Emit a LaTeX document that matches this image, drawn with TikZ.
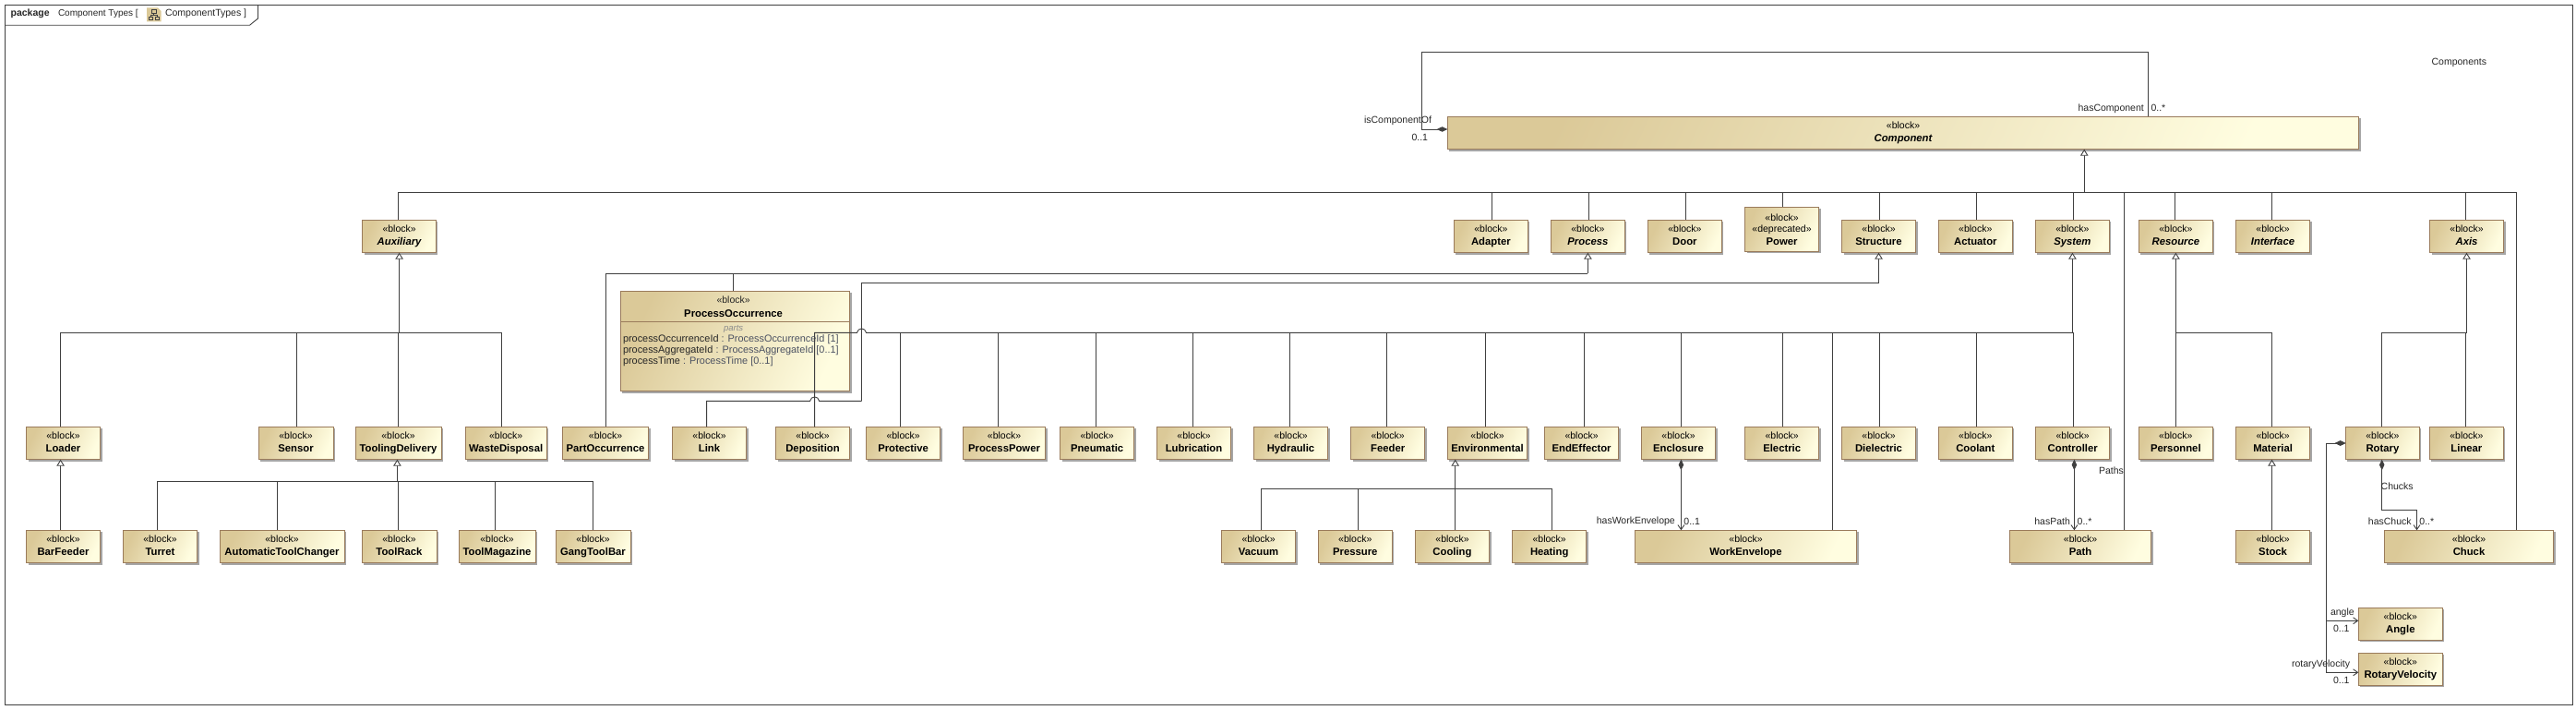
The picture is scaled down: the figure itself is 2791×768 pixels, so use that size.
\documentclass[tikz,border=0pt]{standalone}
\usepackage{fontspec}
\setmainfont{Liberation Sans}
\definecolor{blklo}{HTML}{DBC998}
\definecolor{blkhi}{HTML}{FFFDE0}
\definecolor{blkedge}{HTML}{9A7B5B}
\definecolor{wire}{HTML}{404040}
\definecolor{typegrey}{HTML}{4C5262}
\usetikzlibrary{arrows.meta, shadows}
\newcommand{\blkname}[1]{«block»\\[-0.5pt]{\fontsize{11.3}{14}\selectfont\bfseries\vphantom{Apg}#1}}
\newcommand{\blkital}[1]{«block»\\[-0.5pt]{\fontsize{11.3}{14}\selectfont\bfseries\itshape\vphantom{Apg}#1}}

\begin{document}
\begin{tikzpicture}[x=1pt, y=-1pt,
  blk/.style={rectangle, draw=blkedge, line width=0.9pt, left color=blklo, right color=blkhi,
              shading angle=65, minimum height=35.4pt, inner sep=0pt, outer sep=0pt, align=center,
              text=black, font=\fontsize{10.5}{14}\selectfont,
              drop shadow={shadow xshift=2pt, shadow yshift=-2pt, fill=black!35, opacity=1}},
  lbl/.style={inner sep=0pt, outer sep=0pt, anchor=west, text=black!85, font=\fontsize{10.5}{12}\selectfont},
  part/.style={lbl, font=\fontsize{10.9}{12}\selectfont},
  ln/.style={draw=wire, line width=0.9pt},
  gen/.style={ln, -{Triangle[open, fill=white, length=7pt, width=8.5pt]}},
  cmp/.style={ln, {Diamond[length=11.5pt, width=5.5pt]}-{Straight Barb[length=5pt, width=7pt]}},
  cmpl/.style={ln, {Diamond[length=11.5pt, width=5.5pt]}-},
]
\useasboundingbox (0,0) rectangle (2791,768);

% Frame
\draw[ln] (5.4,5.3) rectangle (2787,763);
\draw[ln] (5.4,27.3) -- (270.5,27.3) -- (279.5,20) -- (279.5,5.3);
\node[lbl] (pkgkind) at (11.6,14.5) {\textbf{package}};
\node[lbl, font=\fontsize{10}{12}\selectfont] (pkgname) at (63,14.5) {Component Types [};
\node[lbl] (pkgdiag) at (179,14.5) {ComponentTypes ]};
\fill[blklo] (159,8.5) -- (171,8.5) -- (174.5,12) -- (174.5,23.5) -- (159,23.5) -- cycle;
\draw[black!75, line width=0.6pt] (164,10.5) rectangle (169.5,14.5) (161.5,18) rectangle (165.5,21.5) (168,18) rectangle (172,21.5)
  (166.7,14.5) -- (166.7,16.3) (163.5,18) -- (163.5,16.3) -- (170,16.3) -- (170,18);

% Top row
\node[blk, minimum width=987.4pt] (component) at (2062,144) {\blkital{Component}};
\node[blk, minimum width=79.4pt] (auxiliary) at (432.6,256) {\blkital{Auxiliary}};
\node[blk, minimum width=80pt] (adapter) at (1615.4,256) {\blkname{Adapter}};
\node[blk, minimum width=80pt] (process) at (1720.4,256) {\blkital{Process}};
\node[blk, minimum width=80pt] (door) at (1825.4,256) {\blkname{Door}};
\node[blk, minimum width=80pt, minimum height=48pt] (power) at (1930.5,248.3) {«block»\\[-1.5pt]«deprecated»\\[-0.5pt]{\fontsize{11.3}{14}\selectfont\bfseries Power}};
\node[blk, minimum width=80pt] (structure) at (2035.5,256) {\blkname{Structure}};
\node[blk, minimum width=80pt] (actuator) at (2140.3,256) {\blkname{Actuator}};
\node[blk, minimum width=80pt] (system) at (2245.4,256) {\blkital{System}};
\node[blk, minimum width=80pt] (resource) at (2357.4,256) {\blkital{Resource}};
\node[blk, minimum width=80pt] (interface) at (2462.5,256) {\blkital{Interface}};
\node[blk, minimum width=80pt] (axis) at (2672.5,256) {\blkital{Axis}};

% ProcessOccurrence
\node[blk, minimum width=248.2pt, minimum height=108.4pt] (occurrence) at (796.4,369.5) {};
\draw[blkedge, line width=0.9pt] (occurrence.west |- 0,348.3) -- (occurrence.east |- 0,348.3);
\node[lbl, anchor=center] (occblock) at (794.6,324.5) {«block»};
\node[lbl, anchor=center, text=black, font=\fontsize{11.3}{14}\selectfont\bfseries] (occname) at (794.6,339.5) {ProcessOccurrence};
\node[lbl, anchor=center, text=black!45, font=\fontsize{9.5}{12}\selectfont\itshape] (occparts) at (794.6,356) {parts};
\node[part] (occid) at (675,367.3) {processOccurrenceId \textcolor{typegrey}{: ProcessOccurrenceId [1]}};
\node[part] (occagg) at (675,379.3) {processAggregateId \textcolor{typegrey}{: ProcessAggregateId [0..1]}};
\node[part] (occtime) at (675,391.3) {processTime \textcolor{typegrey}{: ProcessTime [0..1]}};

% Middle row
\node[blk, minimum width=80pt] (loader) at (68.5,480) {\blkname{Loader}};
\node[blk, minimum width=81pt] (sensor) at (320.5,480) {\blkname{Sensor}};
\node[blk, minimum width=93pt] (tooling) at (431.5,480) {\blkname{ToolingDelivery}};
\node[blk, minimum width=88pt] (waste) at (548.2,480) {\blkname{WasteDisposal}};
\node[blk, minimum width=93.4pt] (partocc) at (656,480) {\blkname{PartOccurrence}};
\node[blk, minimum width=80pt] (link) at (768.5,480) {\blkname{Link}};
\node[blk, minimum width=80pt] (deposition) at (880.5,480) {\blkname{Deposition}};
\node[blk, minimum width=80.4pt] (protective) at (978.6,480) {\blkname{Protective}};
\node[blk, minimum width=89.4pt] (procpower) at (1088,480) {\blkname{ProcessPower}};
\node[blk, minimum width=80pt] (pneumatic) at (1188.6,480) {\blkname{Pneumatic}};
\node[blk, minimum width=80pt] (lubrication) at (1293.5,480) {\blkname{Lubrication}};
\node[blk, minimum width=80pt] (hydraulic) at (1398.5,480) {\blkname{Hydraulic}};
\node[blk, minimum width=80pt] (feeder) at (1503.7,480) {\blkname{Feeder}};
\node[blk, minimum width=86.4pt] (environmental) at (1611.5,480) {\blkname{Environmental}};
\node[blk, minimum width=80pt] (endeffector) at (1713.6,480) {\blkname{EndEffector}};
\node[blk, minimum width=80.4pt] (enclosure) at (1818.5,480) {\blkname{Enclosure}};
\node[blk, minimum width=80pt] (electric) at (1930.7,480) {\blkname{Electric}};
\node[blk, minimum width=80pt] (dielectric) at (2035.5,480) {\blkname{Dielectric}};
\node[blk, minimum width=80pt] (coolant) at (2140.3,480) {\blkname{Coolant}};
\node[blk, minimum width=80pt] (controller) at (2245.7,480) {\blkname{Controller}};
\node[blk, minimum width=80pt] (personnel) at (2357.3,480) {\blkname{Personnel}};
\node[blk, minimum width=80pt] (material) at (2462.6,480) {\blkname{Material}};
\node[blk, minimum width=80pt] (rotary) at (2581.4,480) {\blkname{Rotary}};
\node[blk, minimum width=80pt] (linear) at (2672.4,480) {\blkname{Linear}};

% Bottom row
\node[blk, minimum width=80pt] (barfeeder) at (68.5,592) {\blkname{BarFeeder}};
\node[blk, minimum width=80pt] (turret) at (173.5,592) {\blkname{Turret}};
\node[blk, minimum width=135pt] (toolchanger) at (305.5,592) {\blkname{AutomaticToolChanger}};
\node[blk, minimum width=81pt] (toolrack) at (432.5,592) {\blkname{ToolRack}};
\node[blk, minimum width=83pt] (toolmagazine) at (538.5,592) {\blkname{ToolMagazine}};
\node[blk, minimum width=81pt] (gangbar) at (642.5,592) {\blkname{GangToolBar}};
\node[blk, minimum width=80pt] (vacuum) at (1363.6,592) {\blkname{Vacuum}};
\node[blk, minimum width=80pt] (pressure) at (1468.3,592) {\blkname{Pressure}};
\node[blk, minimum width=80pt] (cooling) at (1573.5,592) {\blkname{Cooling}};
\node[blk, minimum width=80pt] (heating) at (1678.7,592) {\blkname{Heating}};
\node[blk, minimum width=240pt] (workenvelope) at (1891.5,592) {\blkname{WorkEnvelope}};
\node[blk, minimum width=153.2pt] (path) at (2254,592) {\blkname{Path}};
\node[blk, minimum width=80pt] (stock) at (2462.6,592) {\blkname{Stock}};
\node[blk, minimum width=183pt] (chuck) at (2675,592) {\blkname{Chuck}};
\node[blk, minimum width=91pt, minimum height=35pt] (angle) at (2600.8,675.8) {\blkname{Angle}};
\node[blk, minimum width=91pt, minimum height=35pt] (rotvelocity) at (2600.8,724.8) {\blkname{RotaryVelocity}};

% Bus points
\coordinate (buscomp) at (2258.2,208.3);
\coordinate (busaux) at (432.6,360.3);
\coordinate (bustool) at (430.4,521.3);
\coordinate (busproc) at (1720.4,296.3);
\coordinate (busstruct) at (2035.5,306.3);
\coordinate (bussys) at (2245.4,360.3);
\coordinate (busenv) at (1576.7,529.3);
\coordinate (busres) at (2357.4,360.3);
\coordinate (busaxis) at (2672.5,360.3);
\coordinate (looptl) at (1540.6,56.3);
\coordinate (rotjoin) at (2520.4,672.3);
\coordinate (rotjoinb) at (2520.4,728.3);
\coordinate (chuckbend) at (2580.7,552.3);
\coordinate (hopa) at (928.5,360.3);
\coordinate (hopb) at (938.5,360.3);
\coordinate (hopc) at (877.6,434.3);
\coordinate (hopd) at (887.6,434.3);
\coordinate (structdown) at (933.5,434.3);

% Component hierarchy
\draw[gen] (buscomp) -- (component.south -| buscomp);
\draw[ln] ([xshift=-1.3pt]auxiliary.north) |- (buscomp);
\draw[ln] ([xshift=1.1pt]adapter.north) |- (buscomp);
\draw[ln] ([xshift=1pt]process.north) |- (buscomp);
\draw[ln] ([xshift=0.9pt]door.north) |- (buscomp);
\draw[ln] ([xshift=0.8pt]power.north) |- (buscomp);
\draw[ln] ([xshift=1.1pt]structure.north) |- (buscomp);
\draw[ln] ([xshift=1.1pt]actuator.north) |- (buscomp);
\draw[ln] ([xshift=0.9pt]system.north) |- (buscomp);
\draw[ln] ([xshift=-0.9pt]resource.north) |- (buscomp);
\draw[ln] ([xshift=-1.1pt]interface.north) |- (buscomp);
\draw[ln] ([xshift=-0.9pt]axis.north) |- (buscomp);
\draw[ln] ([xshift=47.5pt]path.north) |- (buscomp);
\draw[ln] ([xshift=51.5pt]chuck.north) |- (buscomp);

% Self association
\draw[cmpl] ([yshift=4pt]component.west) -| (looptl) -| ([xshift=265.4pt]component.north);

% Auxiliary
\draw[gen] (busaux) -- (auxiliary.south);
\draw[ln] ([xshift=-2.9pt]loader.north) |- (busaux);
\draw[ln] ([xshift=0.9pt]sensor.north) |- (busaux);
\draw[ln] (tooling.north) |- (busaux);
\draw[ln] ([xshift=-4.9pt]waste.north) |- (busaux);
\draw[gen] ([xshift=-2.9pt]barfeeder.north) -- ([xshift=-2.9pt]loader.south);

% ToolingDelivery
\draw[gen] (bustool) -- (tooling.south -| bustool);
\draw[ln] ([xshift=-3pt]turret.north) |- (bustool);
\draw[ln] ([xshift=-5.1pt]toolchanger.north) |- (bustool);
\draw[ln] ([xshift=-1.2pt]toolrack.north) |- (bustool);
\draw[ln] ([xshift=-1.9pt]toolmagazine.north) |- (bustool);
\draw[ln] (gangbar.north) |- (bustool);

% Process
\draw[gen] (busproc) -- (process.south);
\draw[ln] (partocc.north) |- (busproc);
\draw[ln] ([xshift=-1.8pt]occurrence.north) |- (busproc);

% Structure
\draw[gen] (busstruct) -- (structure.south);
\draw[ln] (structdown) |- (busstruct);
\draw[ln] ([xshift=-2.9pt]link.north) |- (hopc) .. controls (878.6,428.5) and (886.6,428.5) .. (hopd) -- (structdown);

% System
\draw[gen] (bussys) -- (system.south);
\draw[ln] ([xshift=2.1pt]deposition.north) |- (hopa) .. controls (929.5,354.5) and (937.5,354.5) .. (hopb) -- (bussys);
\draw[ln] ([xshift=-3.2pt]protective.north) |- (bussys);
\draw[ln] ([xshift=-6.3pt]procpower.north) |- (bussys);
\draw[ln] ([xshift=-1.1pt]pneumatic.north) |- (bussys);
\draw[ln] ([xshift=-1pt]lubrication.north) |- (bussys);
\draw[ln] ([xshift=-1.2pt]hydraulic.north) |- (bussys);
\draw[ln] ([xshift=-1.2pt]feeder.north) |- (bussys);
\draw[ln] ([xshift=-1.9pt]environmental.north) |- (bussys);
\draw[ln] ([xshift=3.1pt]endeffector.north) |- (bussys);
\draw[ln] ([xshift=2.9pt]enclosure.north) |- (bussys);
\draw[ln] ([xshift=0.8pt]electric.north) |- (bussys);
\draw[ln] ([xshift=94.3pt]workenvelope.north) |- (bussys);
\draw[ln] ([xshift=0.5pt]dielectric.north) |- (bussys);
\draw[ln] ([xshift=1.2pt]coolant.north) |- (bussys);
\draw[ln] ([xshift=0.7pt]controller.north) |- (bussys);

% Environmental
\draw[gen] (busenv) -- (environmental.south -| busenv);
\draw[ln] ([xshift=2.7pt]vacuum.north) |- (busenv);
\draw[ln] ([xshift=3.2pt]pressure.north) |- (busenv);
\draw[ln] ([xshift=3.2pt]cooling.north) |- (busenv);
\draw[ln] ([xshift=2.7pt]heating.north) |- (busenv);

% Resource, Material, Axis
\draw[gen] (busres) -- (resource.south);
\draw[ln] (personnel.north) |- (busres);
\draw[ln] ([xshift=-1.1pt]material.north) |- (busres);
\draw[gen] ([xshift=-1.1pt]stock.north) -- ([xshift=-1.1pt]material.south);
\draw[gen] (busaxis) -- (axis.south);
\draw[ln] ([xshift=-0.7pt]rotary.north) |- (busaxis);
\draw[ln] ([xshift=-1.2pt]linear.north) |- (busaxis);

% Compositions
\draw[cmp] ([xshift=2.9pt]enclosure.south) -- ([xshift=-70.1pt]workenvelope.north);
\draw[cmp] ([xshift=1.7pt]controller.south) -- ([xshift=-6.6pt]path.north);
\draw[cmp] ([xshift=-0.7pt]rotary.south) -- (chuckbend) -| ([xshift=-56.5pt]chuck.north);
\draw[cmp] (rotary.west) -| (rotjoin) -- ([yshift=3.5pt]angle.west);
\draw[cmp] (rotary.west) -| (rotjoinb) -- ([yshift=-3.5pt]rotvelocity.west);

% Labels
\node[lbl] (lblofcomp) at (1478,131) {isComponentOf};
\node[lbl] (lblofmult) at (1529.5,149) {0..1};
\node[lbl] (lblhascomp) at (2251.6,117.3) {hasComponent};
\node[lbl] (lblhasmult) at (2330.5,117.3) {0..*};
\node[lbl] (lblcomps) at (2634.6,68.3) {Components};
\node[lbl] (lblenvel) at (1729.8,565) {hasWorkEnvelope};
\node[lbl] (lblenvmult) at (1824.4,565) {0..1};
\node[lbl] (lblpath) at (2204.3,565) {hasPath};
\node[lbl] (lblpathmult) at (2250.7,565) {0..*};
\node[lbl] (lblpaths) at (2274,509.3) {Paths};
\node[lbl] (lblchucks) at (2579.7,526.3) {Chucks};
\node[lbl] (lblchuck) at (2565.9,565) {hasChuck};
\node[lbl] (lblchuckmult) at (2621.4,565) {0..*};
\node[lbl] (lblangle) at (2525,663.3) {angle};
\node[lbl] (lblanglemult) at (2528,681) {0..1};
\node[lbl] (lblrotvel) at (2483,719.3) {rotaryVelocity};
\node[lbl] (lblrotmult) at (2528,737) {0..1};

\end{tikzpicture}
\end{document}
